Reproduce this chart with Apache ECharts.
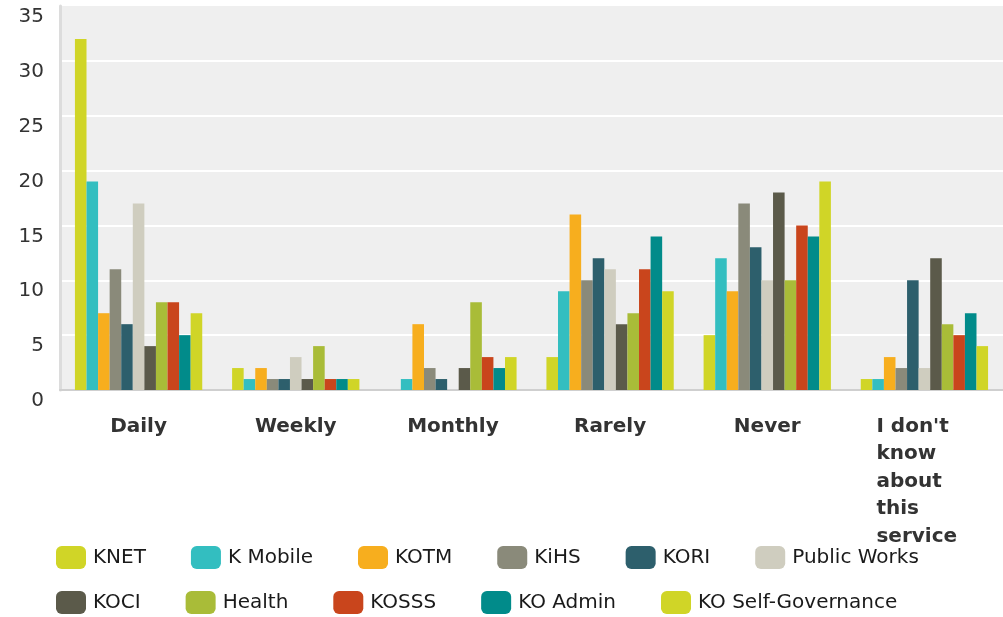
<!DOCTYPE html>
<html>
<head>
<meta charset="utf-8">
<script src="https://cdn.jsdelivr.net/npm/echarts@6/dist/echarts.min.js"></script>
<style>
html,body{margin:0;padding:0;background:#fff;}
#main{width:1003px;height:617px;}
</style>
</head>
<body>
<div id="main"></div>
<script>
var categories = ['Daily', 'Weekly', 'Monthly', 'Rarely', 'Never', "I don't know about this service"];
var seriesNames = ['KNET', 'K Mobile', 'KOTM', 'KiHS', 'KORI', 'Public Works', 'KOCI', 'Health', 'KOSSS', 'KO Admin', 'KO Self-Governance'];
var colors = ['#d0d527', '#33bec0', '#f7ae1e', '#8a8a7a', '#2d5f6c', '#cfcdbf', '#5b5a4a', '#a9bc38', '#c9451c', '#018b8a', '#d0d527'];

var knet        = [32, 2, 0, 3, 5, 1];
var kMobile     = [19, 1, 1, 9, 12, 1];
var kotm        = [7, 2, 6, 16, 9, 3];
var kihs        = [11, 1, 2, 10, 17, 2];
var kori        = [6, 1, 1, 12, 13, 10];
var publicWorks = [17, 3, 0, 11, 10, 2];
var koci        = [4, 1, 2, 6, 18, 12];
var health      = [8, 4, 8, 7, 10, 6];
var kosss       = [8, 1, 3, 11, 15, 5];
var koAdmin     = [5, 1, 2, 14, 14, 7];
var koSelfGov   = [7, 1, 3, 9, 19, 4];

var yTicks = { min: 0, max: 35, interval: 5 };

var values = [knet, kMobile, kotm, kihs, kori, publicWorks, koci, health, kosss, koAdmin, koSelfGov];
var font = 'DejaVu Sans';

var myChart = echarts.init(document.getElementById('main'));

var series = [];
for (var i = 0; i < seriesNames.length; i++) {
    series.push({
        name: seriesNames[i],
        type: 'bar',
        barGap: 0,
        barCategoryGap: '19%',
        itemStyle: { color: colors[i] },
        data: values[i]
    });
}

var legendBase = {
    orient: 'horizontal',
    left: 51,
    itemWidth: 30,
    itemHeight: 23,
    itemGap: 45,
    icon: 'roundRect',
    textStyle: { fontFamily: font, fontSize: 20, color: '#1a1a1a', lineHeight: 23, padding: [0, 0, 0, 2] }
};

var option = {
    animation: false,
    backgroundColor: '#fff',
    legend: [
        Object.assign({}, legendBase, { top: 541, data: seriesNames.slice(0, 6) }),
        Object.assign({}, legendBase, { top: 586, data: seriesNames.slice(6) })
    ],
    grid: {
        left: 60, right: 0, top: 6, bottom: 227,
        outerBoundsMode: 'none',
        containLabel: false,
        show: true, backgroundColor: '#efefef', borderWidth: 0
    },
    xAxis: {
        type: 'category',
        data: categories,
        axisTick: { show: false },
        axisLine: { show: true, lineStyle: { color: '#cfcfcf', width: 2 } },
        axisLabel: {
            interval: 0,
            margin: 23,
            fontFamily: font,
            fontSize: 20,
            fontWeight: 'bold',
            color: '#333',
            lineHeight: 27.5,
            formatter: function (v) {
                if (v.indexOf(' ') < 0) return v;
                //last label: left aligned block
                var lines = ["I don't", 'know', 'about', 'this', 'service'];
                return lines.map(function (l) { return '{l|' + l + '}'; }).join('\n');
            },
            rich: {
                l: { width: 96, align: 'left', fontFamily: font, fontSize: 20, fontWeight: 'bold', color: '#333', lineHeight: 27.5 }
            }
        }
    },
    yAxis: {
        type: 'value',
        min: yTicks.min,
        max: yTicks.max,
        interval: yTicks.interval,
        axisLine: { show: true, lineStyle: { color: '#dcdcdc', width: 3 } },
        axisTick: { show: false },
        splitLine: { show: true, showMinLine: false, showMaxLine: false, lineStyle: { color: '#ffffff', width: 2 } },
        axisLabel: {
            margin: 16,
            fontFamily: font,
            fontSize: 20,
            color: '#333',
            verticalAlign: 'top',
            lineHeight: 22
        }
    },
    series: series
};
myChart.setOption(option);
</script>
</body>
</html>
